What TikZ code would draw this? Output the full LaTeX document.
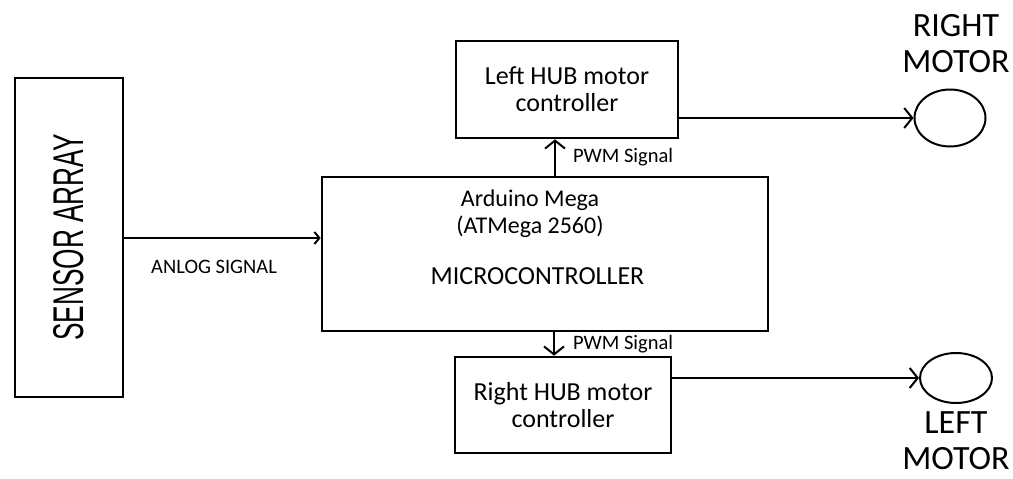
\documentclass[tikz,border=0pt]{standalone}
\usepackage{fontspec}
\setmainfont{Carlito}
\newfontfamily\arialfont{Liberation Sans}
\usetikzlibrary{arrows.meta,shapes.geometric}

\begin{document}
\begin{tikzpicture}[x=1pt,y=-1pt,
  block/.style={rectangle,draw,line width=2.6pt,inner sep=0pt,align=center,
    font=\fontsize{26}{27}\selectfont},
  sig/.style={line width=2pt,-{Straight Barb[length=8pt,width=20pt,line width=2pt]}},
  motor/.style={ellipse,draw,line width=2pt,inner sep=0pt},
  tag/.style={font=\fontsize{20.5}{22}\selectfont,inner sep=0pt},
  mlabel/.style={align=center,font=\fontsize{34}{36}\selectfont,inner sep=0pt}]
  \useasboundingbox (0,0) rectangle (1013,479);
  % blocks
  \node[block,minimum width=108pt,minimum height=319pt] (sensor) at (69,237.5)
    {\rotatebox{90}{\arialfont\fontsize{43}{43}\selectfont\scalebox{0.61}[1]{SENSOR ARRAY}}};
  \node[block,minimum width=446pt,minimum height=154pt] (mcu) at (545,254) {};
  \node[block,minimum width=222pt,minimum height=97pt] (leftHub) at (567,89.5) {Left HUB motor\\controller};
  \node[block,minimum width=216pt,minimum height=96pt] (rightHub) at (563,405) {Right HUB motor\\controller};
  \node[align=center,inner sep=0pt,font=\fontsize{24}{27}\selectfont] (mcuName) at (530,214) {Arduino Mega\\(ATMega 2560)};
  \node[inner sep=0pt,font=\fontsize{26}{26}\selectfont] (mcuLabel) at (537.5,276) {MICROCONTROLLER};
  % motors
  \node[motor,minimum width=71pt,minimum height=57pt] (rMotor) at (950,118) {};
  \node[motor,minimum width=72pt,minimum height=50pt] (lMotor) at (956,378) {};
  \node[mlabel] (rMotorLabel) at (956,43.5) {RIGHT\\MOTOR};
  \node[mlabel] (lMotorLabel) at (956,441) {LEFT\\MOTOR};
  % signals
  \draw[sig,-{Straight Barb[length=5pt,width=12pt,line width=2pt]}] (sensor.east |- 0,238) -- (mcu.west |- 0,238)
    node[tag,pos=0.457,below=21pt]{ANLOG SIGNAL};
  \draw[sig] (mcu.north -| 555,0) -- (leftHub.south -| 555,0)
    node[tag,midway,anchor=west,xshift=17pt]{PWM Signal};
  \draw[sig] (mcu.south -| 554,0) -- (rightHub.north -| 554,0)
    node[tag,midway,anchor=west,xshift=18pt]{PWM Signal};
  \draw[sig] (leftHub.east |- rMotor.west) -- (rMotor.west);
  \draw[sig] (rightHub.east |- lMotor.west) -- (lMotor.west);
\end{tikzpicture}
\end{document}
